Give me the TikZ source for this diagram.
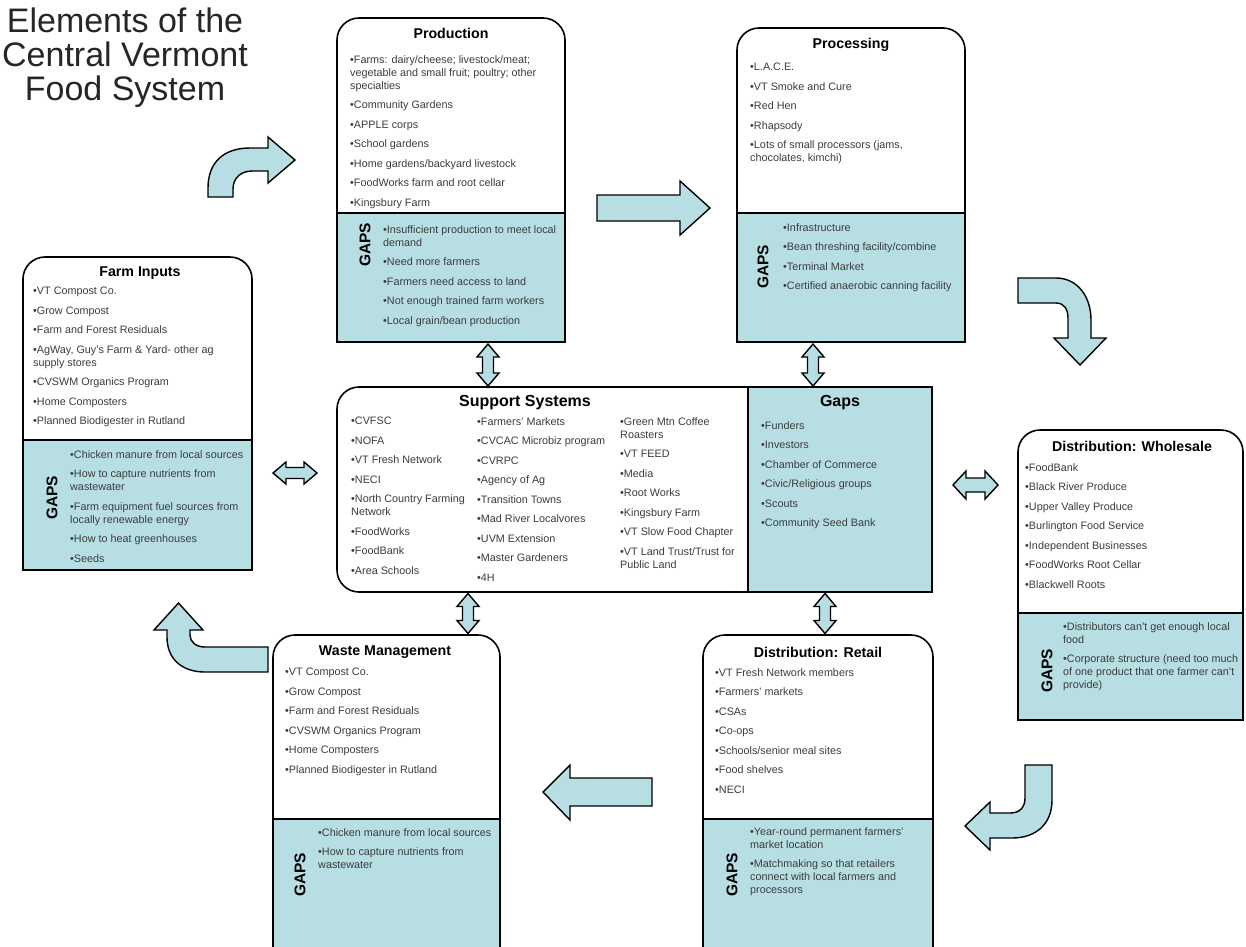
\documentclass[tikz,border=0pt]{standalone}
\usepackage{fontspec}
\setmainfont{Liberation Sans}
\definecolor{gapblue}{RGB}{183,222,227}
\definecolor{txt}{RGB}{60,60,60}
\tikzset{
  x=1pt,y=-1pt,
  boxline/.style={line width=1.6pt, draw=black, line join=miter},
  blk/.style={fill=gapblue, draw=black, line width=1.4pt, line join=miter},
  items/.style={anchor=north west, inner sep=0pt, align=left, text=txt, font=\fontsize{10.8}{13}\selectfont},
  btitle/.style={inner sep=0pt, font=\bfseries\fontsize{14.2}{16}\selectfont},
  stitle/.style={inner sep=0pt, font=\bfseries\fontsize{16}{18}\selectfont},
  gapslabel/.style={inner sep=0pt, rotate=90, font=\bfseries\fontsize{15.5}{17}\selectfont},
}
\newcommand\topbox[5]{%
  \fill[gapblue] (#1,#5) rectangle (#3,#4);
  \draw[boxline] (#1,#4) -- (#1,{#2+22}) arc[start angle=180,end angle=270,radius=22] -- ({#3-22},#2) arc[start angle=270,end angle=360,radius=22] -- (#3,#4) -- cycle;
  \draw[boxline] (#1,#5) -- (#3,#5);}
\newcommand\hdbl[4]{%
  \filldraw[blk] ({#1-#3},#2) -- ({#1-#3+13},{#2-#4}) -- ({#1-#3+13},{#2-#4/2}) -- ({#1+#3-13},{#2-#4/2}) -- ({#1+#3-13},{#2-#4}) -- ({#1+#3},#2) -- ({#1+#3-13},{#2+#4}) -- ({#1+#3-13},{#2+#4/2}) -- ({#1-#3+13},{#2+#4/2}) -- ({#1-#3+13},{#2+#4}) -- cycle;}
\newcommand\vdbl[4]{%
  \filldraw[blk] (#1,{#2-#3}) -- ({#1+#4},{#2-#3+13}) -- ({#1+#4/2},{#2-#3+13}) -- ({#1+#4/2},{#2+#3-13}) -- ({#1+#4},{#2+#3-13}) -- (#1,{#2+#3}) -- ({#1-#4},{#2+#3-13}) -- ({#1-#4/2},{#2+#3-13}) -- ({#1-#4/2},{#2-#3+13}) -- ({#1-#4},{#2-#3+13}) -- cycle;}
\begin{document}
\begin{tikzpicture}
\useasboundingbox (0,0) rectangle (1246,946);
\clip (0,0) rectangle (1246,946);
\fill[white] (0,0) rectangle (1246,946);

% title
\node[anchor=north, align=center, inner sep=0pt, font=\fontsize{34}{34}\selectfont, text={black!85}] (title) at (125,8) {Elements of the\\Central Vermont\\Food System};

% boxes
\topbox{337}{18}{565}{342}{213}
\topbox{737}{28}{965}{342}{213}
\topbox{23}{257}{252}{570}{440}
\topbox{1018}{430}{1243}{720}{613}
\topbox{273}{635}{500}{960}{819}
\topbox{703}{635}{933}{960}{819}
% support systems
\fill[gapblue] (748,387) rectangle (932,592);
\draw[boxline] (932,387) -- (359,387) arc[start angle=270,end angle=180,radius=22] -- (337,570) arc[start angle=180,end angle=90,radius=22] -- (932,592) -- cycle;
\draw[boxline] (748,387) -- (748,592);

% Production
\node[btitle] (prodT) at (451,33) {Production};
\node[items] (prodI) at (350,55) {•Farms: dairy/cheese; livestock/meat;\\vegetable and small fruit; poultry; other\\specialties\\[6.5pt]•Community Gardens\\[6.5pt]•APPLE corps\\[6.5pt]•School gardens\\[6.5pt]•Home gardens/backyard livestock\\[6.5pt]•FoodWorks farm and root cellar\\[6.5pt]•Kingsbury Farm};
\node[gapslabel] (prodG) at (365,245) {GAPS};
\node[items] (prodGI) at (383,225) {•Insufficient production to meet local\\demand\\[6.5pt]•Need more farmers\\[6.5pt]•Farmers need access to land\\[6.5pt]•Not enough trained farm workers\\[6.5pt]•Local grain/bean production};

% Processing
\node[btitle] (procT) at (851,45) {Processing};
\node[items] (procI) at (750,63) {•L.A.C.E.\\[6.5pt]•VT Smoke and Cure\\[6.5pt]•Red Hen\\[6.5pt]•Rhapsody\\[6.5pt]•Lots of small processors (jams,\\chocolates, kimchi)};
\node[gapslabel] (procG) at (763,267) {GAPS};
\node[items] (procGI) at (783,223) {•Infrastructure\\[6.5pt]•Bean threshing facility/combine\\[6.5pt]•Terminal Market\\[6.5pt]•Certified anaerobic canning facility};

% Farm Inputs
\node[btitle] (farmT) at (140,273) {Farm Inputs};
\node[items] (farmI) at (33,287) {•VT Compost Co.\\[6.5pt]•Grow Compost\\[6.5pt]•Farm and Forest Residuals\\[6.5pt]•AgWay, Guy's Farm \& Yard- other ag\\supply stores\\[6.5pt]•CVSWM Organics Program\\[6.5pt]•Home Composters\\[6.5pt]•Planned Biodigester in Rutland};
\node[gapslabel] (farmG) at (52,498) {GAPS};
\node[items] (farmGI) at (70,450) {•Chicken manure from local sources\\[6.5pt]•How to capture nutrients from\\wastewater\\[6.5pt]•Farm equipment fuel sources from\\locally renewable energy\\[6.5pt]•How to heat greenhouses\\[6.5pt]•Seeds};

% Support Systems
\node[stitle] (supT) at (525,403) {Support Systems};
\node[items] (supA) at (351,417) {•CVFSC\\[6.5pt]•NOFA\\[6.5pt]•VT Fresh Network\\[6.5pt]•NECI\\[6.5pt]•North Country Farming\\Network\\[6.5pt]•FoodWorks\\[6.5pt]•FoodBank\\[6.5pt]•Area Schools};
\node[items] (supB) at (477,417) {•Farmers' Markets\\[6.5pt]•CVCAC Microbiz program\\[6.5pt]•CVRPC\\[6.5pt]•Agency of Ag\\[6.5pt]•Transition Towns\\[6.5pt]•Mad River Localvores\\[6.5pt]•UVM Extension\\[6.5pt]•Master Gardeners\\[6.5pt]•4H};
\node[items] (supC) at (620,417) {•Green Mtn Coffee\\Roasters\\[6.5pt]•VT FEED\\[6.5pt]•Media\\[6.5pt]•Root Works\\[6.5pt]•Kingsbury Farm\\[6.5pt]•VT Slow Food Chapter\\[6.5pt]•VT Land Trust/Trust for\\Public Land};
\node[stitle] (supGT) at (840,403) {Gaps};
\node[items] (supGI) at (761,421) {•Funders\\[6.5pt]•Investors\\[6.5pt]•Chamber of Commerce\\[6.5pt]•Civic/Religious groups\\[6.5pt]•Scouts\\[6.5pt]•Community Seed Bank};

% Wholesale
\node[btitle] (wsT) at (1132,446) {Distribution: Wholesale};
\node[items] (wsI) at (1025,463) {•FoodBank\\[6.5pt]•Black River Produce\\[6.5pt]•Upper Valley Produce\\[6.5pt]•Burlington Food Service\\[6.5pt]•Independent Businesses\\[6.5pt]•FoodWorks Root Cellar\\[6.5pt]•Blackwell Roots};
\node[gapslabel] (wsG) at (1047,671) {GAPS};
\node[items] (wsGI) at (1063,622) {•Distributors can't get enough local\\food\\[6.5pt]•Corporate structure (need too much\\of one product that one farmer can't\\provide)};

% Waste Management
\node[btitle] (wmT) at (385,652) {Waste Management};
\node[items] (wmI) at (285,668) {•VT Compost Co.\\[6.5pt]•Grow Compost\\[6.5pt]•Farm and Forest Residuals\\[6.5pt]•CVSWM Organics Program\\[6.5pt]•Home Composters\\[6.5pt]•Planned Biodigester in Rutland};
\node[gapslabel] (wmG) at (300,875) {GAPS};
\node[items] (wmGI) at (318,828) {•Chicken manure from local sources\\[6.5pt]•How to capture nutrients from\\wastewater};

% Retail
\node[btitle] (rtT) at (818,652) {Distribution: Retail};
\node[items] (rtI) at (715,668) {•VT Fresh Network members\\[6.5pt]•Farmers' markets\\[6.5pt]•CSAs\\[6.5pt]•Co-ops\\[6.5pt]•Schools/senior meal sites\\[6.5pt]•Food shelves\\[6.5pt]•NECI};
\node[gapslabel] (rtG) at (732,875) {GAPS};
\node[items] (rtGI) at (750,827) {•Year-round permanent farmers'\\market location\\[6.5pt]•Matchmaking so that retailers\\connect with local farmers and\\processors};

% straight block arrows
\filldraw[blk] (597,195) -- (680,195) -- (680,181) -- (710,208) -- (680,235) -- (680,221) -- (597,221) -- cycle;
\filldraw[blk] (652,778) -- (570,778) -- (570,765) -- (543,792) -- (570,820) -- (570,806) -- (652,806) -- cycle;

% curved block arrows
\filldraw[blk] (208,197) -- (208,188) .. controls (208,162) and (224,148) .. (250,148) -- (268,148) -- (268,137) -- (295,160) -- (268,183) -- (268,171) -- (252,171) .. controls (241,171) and (233,178) .. (233,189) -- (233,197) -- cycle;
\filldraw[blk] (1018,278) -- (1056,278) .. controls (1077,278) and (1091,296) .. (1091,320) -- (1091,338) -- (1106,338) -- (1080,365) -- (1054,338) -- (1068,338) -- (1068,318) .. controls (1068,309) and (1064,303) .. (1056,303) -- (1018,303) -- cycle;
\filldraw[blk] (1052,765) -- (1052,800) .. controls (1052,824) and (1036,838) .. (1012,838) -- (990,838) -- (990,850) -- (965,826) -- (990,802) -- (990,813) -- (1010,813) .. controls (1020,813) and (1025,807) .. (1025,798) -- (1025,765) -- cycle;
\filldraw[blk] (268,647) -- (205,647) .. controls (196,647) and (190,642) .. (190,635) -- (190,630) -- (203,630) -- (178.5,603) -- (154,630) -- (167,630) -- (167,637) .. controls (167,659) and (182,672) .. (205,672) -- (268,672) -- cycle;

% double arrows
\hdbl{295}{473}{22}{11}
\hdbl{975.5}{485}{22.5}{14}
\vdbl{488}{365}{21}{11}
\vdbl{813}{365}{21}{11}
\vdbl{468}{613.5}{20}{11}
\vdbl{825}{613.5}{20}{11}
\end{tikzpicture}
\end{document}
